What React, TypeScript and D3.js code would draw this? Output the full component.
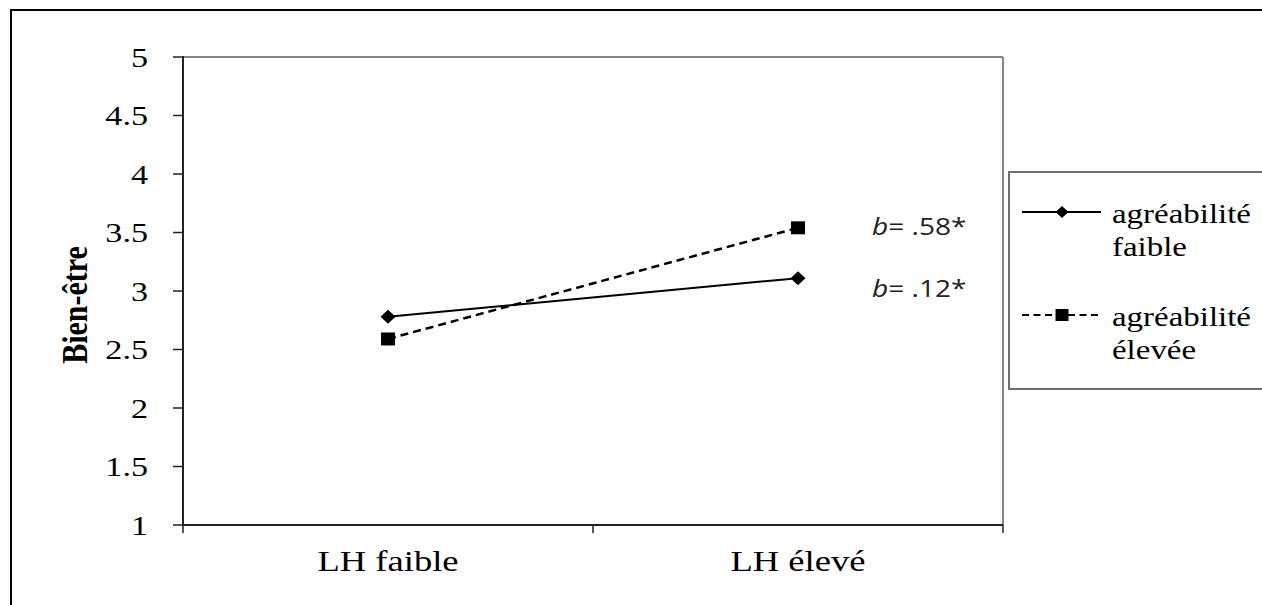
import React from 'react';
import * as d3 from 'd3';

const categories = ['LH faible', 'LH élevé'];
const seriesNames = [
  ['agréabilité', 'faible'],
  ['agréabilité', 'élevée'],
];
const lowAgreeValues = [2.78, 3.11];
const highAgreeValues = [2.59, 3.54];
const slopeLabels = ['.12*', '.58*'];
const slopeLabelLevels = [2.95, 3.48];
const yTicks = [1, 1.5, 2, 2.5, 3, 3.5, 4, 4.5, 5];
const yTitle = 'Bien-être';

const SX = 1.22;
const W = 1262;
const H = 605;

const serif = "'Liberation Serif', 'Times New Roman', Times, serif";
const sans = "'Open Sans', 'Liberation Sans', Arial, sans-serif";

export default function App() {
  const left = 183, right = 1003, top = 57, bottom = 525;
  const y = d3.scaleLinear().domain([1, 5]).range([bottom, top]);
  const x = d3.scaleBand<string>().domain(categories).range([left, right]);
  const cx = (c: string) => (x(c) as number) + x.bandwidth() / 2;

  const line = d3
    .line<number>()
    .x((_, i) => cx(categories[i]))
    .y((d) => y(d));

  const diamond = (px: number, py: number, w = 7.5, h = 7) =>
    `M${px},${py - h}L${px + w},${py}L${px},${py + h}L${px - w},${py}Z`;
  const square = (px: number, py: number, w = 7, h = 6.5) =>
    `M${px - w},${py - h}H${px + w}V${py + h}H${px - w}Z`;

  const xTickPos = [left, ...categories.map((c) => (x(c) as number) + x.bandwidth())];

  const legendX = 1009;
  const legendY = 172;
  const legendItems = [
    { name: seriesNames[0], dashed: false, sym: diamond, my: 212 },
    { name: seriesNames[1], dashed: true, sym: square, my: 315 },
  ];

  const serifStyle = { fontFamily: serif };
  const sansStyle = { fontFamily: sans };

  return (
    <svg
      width={W}
      height={H}
      style={{ position: 'absolute', left: 0, top: 0, background: '#fff' }}
    >
      <rect x={0} y={0} width={W} height={H} fill="#fff" />
      {/* outer frame */}
      <rect x={11} y={10} width={1400} height={800} fill="none" stroke="#000" strokeWidth={2} />

      {/* plot frame top/right gray */}
      <line x1={left} y1={top} x2={right} y2={top} stroke="#858585" strokeWidth={2} />
      <line x1={right} y1={top} x2={right} y2={bottom} stroke="#858585" strokeWidth={2} />

      {/* y axis */}
      <line x1={left} y1={top - 1} x2={left} y2={bottom + 1} stroke="#222" strokeWidth={2} />
      {yTicks.map((t) => (
        <g key={t}>
          <line x1={left - 10} x2={left} y1={y(t)} y2={y(t)} stroke="#222" strokeWidth={1.5} />
          <text
            transform={`translate(148,${y(t) + 9.5}) scale(${SX},1)`}
            textAnchor="end"
            style={serifStyle}
            fontSize={28}
            fill="#000"
          >
            {String(t)}
          </text>
        </g>
      ))}

      {/* x axis */}
      <line x1={left} y1={bottom} x2={right} y2={bottom} stroke="#222" strokeWidth={2} />
      {xTickPos.map((p, i) => (
        <line key={i} x1={p} x2={p} y1={bottom} y2={bottom + 8} stroke="#222" strokeWidth={1.5} />
      ))}
      {categories.map((c) => (
        <text
          key={c}
          transform={`translate(${cx(c)},571) scale(${SX},1)`}
          textAnchor="middle"
          style={serifStyle}
          fontSize={30}
          fill="#000"
        >
          {c}
        </text>
      ))}

      {/* y title */}
      <text
        transform={`translate(87,305) rotate(-90) scale(1,${SX})`}
        textAnchor="middle"
        style={serifStyle}
        fontWeight="bold"
        fontSize={30}
        fill="#000"
      >
        {yTitle}
      </text>

      {/* series */}
      <path d={line(lowAgreeValues) || ''} fill="none" stroke="#000" strokeWidth={2} />
      <path
        d={line(highAgreeValues) || ''}
        fill="none"
        stroke="#000"
        strokeWidth={2.5}
        strokeDasharray="8,5"
      />
      {lowAgreeValues.map((v, i) => (
        <path key={'d' + i} d={diamond(cx(categories[i]), y(v))} fill="#000" />
      ))}
      {highAgreeValues.map((v, i) => (
        <path key={'s' + i} d={square(cx(categories[i]), y(v))} fill="#000" />
      ))}

      {/* slope labels */}
      {slopeLabels.map((s, i) => (
        <text
          key={s}
          transform={`translate(${cx(categories[1]) + 74},${y(slopeLabelLevels[i])}) scale(${SX},1)`}
          style={sansStyle}
          fontSize={23}
          fill="#222"
        >
          <tspan fontStyle="italic">b</tspan>
          <tspan>{'= ' + s}</tspan>
        </text>
      ))}

      {/* legend */}
      <rect
        x={legendX}
        y={legendY}
        width={400}
        height={217}
        fill="#fff"
        stroke="#6e6e6e"
        strokeWidth={2}
      />
      {legendItems.map((it, i) => (
        <g key={i}>
          <line
            x1={1022}
            x2={1101}
            y1={it.my}
            y2={it.my}
            stroke="#000"
            strokeWidth={2}
            strokeDasharray={it.dashed ? '7,4.5' : undefined}
          />
          <path d={it.sym(1062, it.my, 6.5, 6)} fill="#000" />
          {it.name.map((t, j) => (
            <text
              key={j}
              transform={`translate(1112,${it.my + 11 + j * 33}) scale(${SX},1)`}
              style={serifStyle}
              fontSize={27}
              fill="#000"
            >
              {t}
            </text>
          ))}
        </g>
      ))}
    </svg>
  );
}
